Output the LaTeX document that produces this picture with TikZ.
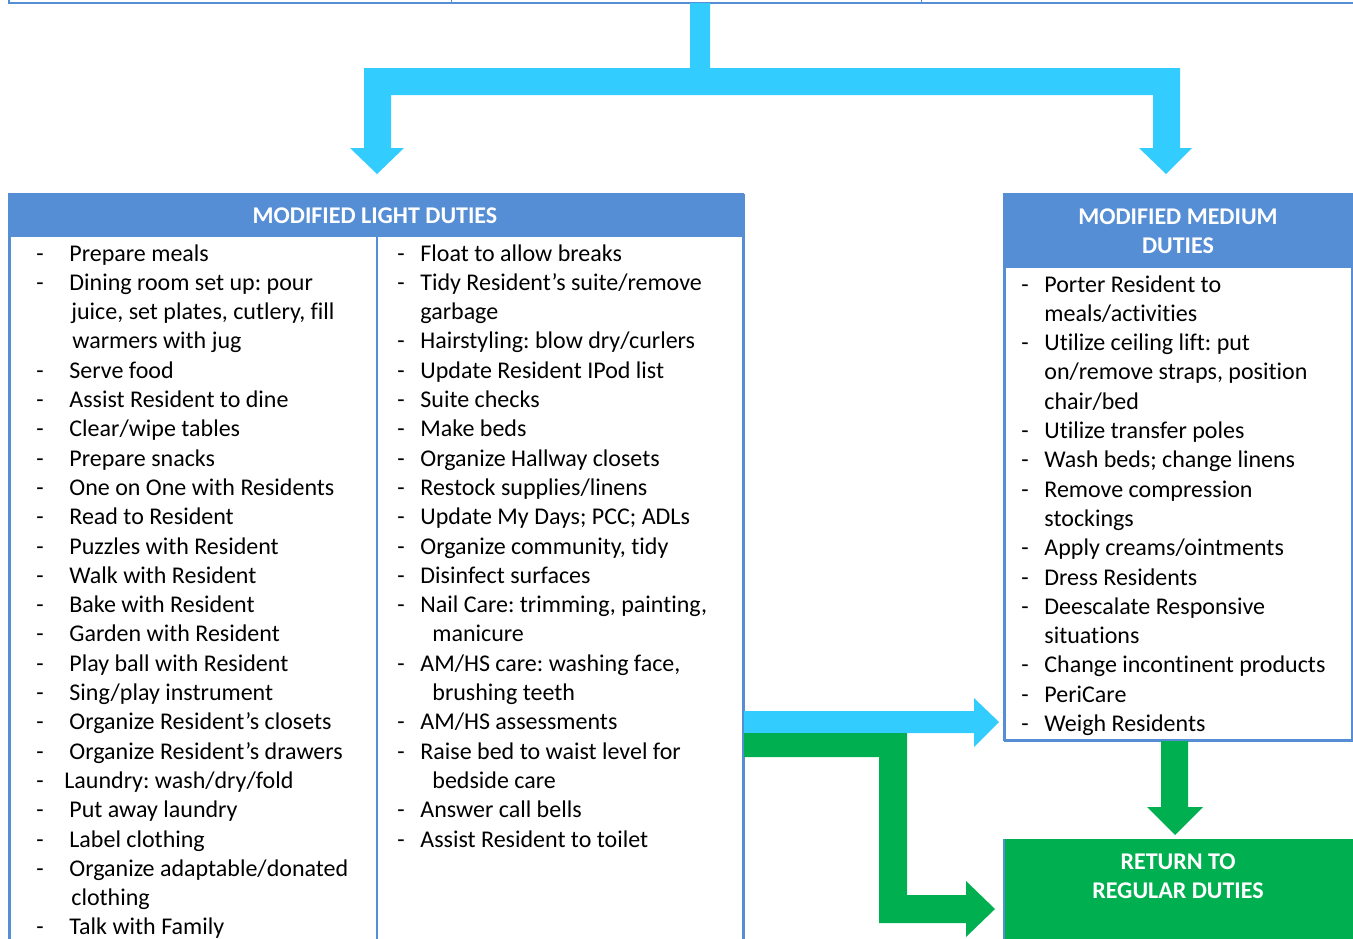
\documentclass[tikz,border=0pt]{standalone}
\usepackage{fontspec}
\setmainfont{Carlito}[Ligatures=NoCommon]
\frenchspacing
\definecolor{hdr}{HTML}{558ED5}
\definecolor{sky}{HTML}{33CCFF}
\definecolor{grn}{HTML}{00B050}
\newcommand\itm[4]{\node[txt,anchor=base west] (#1) at (#2,#3) {#4};}
\newcommand\dsh[3]{\node[txt,anchor=base west] (#1) at (#2,#3) {-};}
\begin{document}
\frenchspacing
\begin{tikzpicture}[x=0.5pt,y=-0.5pt,
  txt/.style={inner sep=0pt,font=\fontsize{12}{14.65}\selectfont},
  hd/.style={inner sep=0pt,text=white,font=\fontsize{12}{14.65}\selectfont\bfseries},
  box/.style={draw=hdr,line width=1pt,fill=white,inner sep=0pt,anchor=north west},
  hbox/.style={fill=hdr,inner sep=0pt,anchor=north west},
  skyarrow/.style={fill=sky,draw=none},
  grnarrow/.style={fill=grn,draw=none}]
\useasboundingbox (0,0) rectangle (1353,938);
\clip (0,0) rectangle (1353,938);

% top table edge
\draw[hdr,line width=1pt] (9,-2) -- (9,2.5) -- (1356,2.5);
\draw[hdr,line width=0.5pt] (451,-2) -- (451,2.5) (921,-2) -- (921,2.5);
\coordinate (src) at (700,3);

% boxes
\node[box,minimum width=367pt,minimum height=383pt] (light) at (9,194) {};
\node[hbox,minimum width=367pt,minimum height=21.5pt] (lighthd) at (9,194) {};
\draw[hdr,line width=1pt] (9,194) rectangle (743,960);
\draw[hdr,line width=1pt] (377,237) -- (377,960);
\node[hd] (lightt) at (375,216) {MODIFIED LIGHT DUTIES};

\node[box,minimum width=174pt,minimum height=273pt] (medium) at (1004,194) {};
\node[hbox,minimum width=174pt,minimum height=37pt] (mediumhd) at (1004,194) {};
\draw[hdr,line width=1pt] (1004,194) rectangle (1352,740);
\node[hd,anchor=base] (medt1) at (1178,224) {MODIFIED MEDIUM};
\node[hd,anchor=base] (medt2) at (1178,253) {DUTIES};

\node[fill=grn,inner sep=0pt,anchor=north west,minimum width=176pt,minimum height=60pt] (regular) at (1004,839) {};
\draw[hdr,line width=0.8pt] (regular.north west) -- (regular.south west);
\node[hd,anchor=base] (regt1) at (1178,869) {RETURN TO};
\node[hd,anchor=base] (regt2) at (1178,898) {REGULAR DUTIES};

% top split arrow
\path[skyarrow] (690,3) -- (710,3) -- (710,68) -- (1180,68) -- (1180,148) -- (1192,148)
  -- (1166,174) -- (1139,148) -- (1153,148) -- (1153,95) -- (391,95) -- (391,148)
  -- (404,148) -- (377,174) -- (350,148) -- (364,148) -- (364,68) -- (690,68) -- cycle;

% light -> medium
\path[skyarrow] (744,711) -- (974,711) -- (974,698) -- (999,722) -- (974,747) -- (974,733) -- (744,733) -- cycle;
% light -> regular
\path[grnarrow] (744,733) -- (907,733) -- (907,895) -- (966,895) -- (966,881) -- (995,909)
  -- (966,937) -- (966,923) -- (879,923) -- (879,757) -- (744,757) -- cycle;
% medium -> regular
\path[grnarrow] (1161,741) -- (1188,741) -- (1188,807) -- (1203,807) -- (1175,835) -- (1147,807) -- (1161,807) -- cycle;

% left column
\dsh{a1}{36}{261}\itm{b1}{69}{261}{Prepare meals}
\dsh{a2}{36}{290.3}\itm{b2}{69}{290.3}{Dining room set up: pour}
\itm{b3}{71}{319.6}{juice, set plates, cutlery, fill}
\itm{b4}{72}{348.9}{warmers with jug}
\dsh{a5}{36}{378.2}\itm{b5}{69}{378.2}{Serve food}
\dsh{a6}{36}{407.5}\itm{b6}{69}{407.5}{Assist Resident to dine}
\dsh{a7}{36}{436.8}\itm{b7}{69}{436.8}{Clear/wipe tables}
\dsh{a8}{36}{466.1}\itm{b8}{69}{466.1}{Prepare snacks}
\dsh{a9}{36}{495.4}\itm{b9}{69}{495.4}{One on One with Residents}
\dsh{a10}{36}{524.7}\itm{b10}{69}{524.7}{Read to Resident}
\dsh{a11}{36}{554}\itm{b11}{69}{554}{Puzzles with Resident}
\dsh{a12}{36}{583.3}\itm{b12}{69}{583.3}{Walk with Resident}
\dsh{a13}{36}{612.6}\itm{b13}{69}{612.6}{Bake with Resident}
\dsh{a14}{36}{641.9}\itm{b14}{69}{641.9}{Garden with Resident}
\dsh{a15}{36}{671.2}\itm{b15}{69}{671.2}{Play ball with Resident}
\dsh{a16}{36}{700.5}\itm{b16}{69}{700.5}{Sing/play instrument}
\dsh{a17}{36}{729.8}\itm{b17}{69}{729.8}{Organize Resident’s closets}
\dsh{a18}{36}{759.1}\itm{b18}{69}{759.1}{Organize Resident’s drawers}
\dsh{a19}{36}{788.4}\itm{b19}{64}{788.4}{Laundry: wash/dry/fold}
\dsh{a20}{36}{817.7}\itm{b20}{69}{817.7}{Put away laundry}
\dsh{a21}{36}{847}\itm{b21}{69}{847}{Label clothing}
\dsh{a22}{36}{876.3}\itm{b22}{69}{876.3}{Organize adaptable/donated}
\itm{b23}{71}{905.6}{clothing}
\dsh{a24}{36}{934.9}\itm{b24}{69}{934.9}{Talk with Family}

% middle column
\dsh{c1}{397}{261}\itm{d1}{420}{261}{Float to allow breaks}
\dsh{c2}{397}{290.3}\itm{d2}{420}{290.3}{Tidy Resident’s suite/remove}
\itm{d3}{420}{319.6}{garbage}
\dsh{c4}{397}{348.9}\itm{d4}{420}{348.9}{Hairstyling: blow dry/curlers}
\dsh{c5}{397}{378.2}\itm{d5}{420}{378.2}{Update Resident IPod list}
\dsh{c6}{397}{407.5}\itm{d6}{420}{407.5}{Suite checks}
\dsh{c7}{397}{436.8}\itm{d7}{420}{436.8}{Make beds}
\dsh{c8}{397}{466.1}\itm{d8}{420}{466.1}{Organize Hallway closets}
\dsh{c9}{397}{495.4}\itm{d9}{420}{495.4}{Restock supplies/linens}
\dsh{c10}{397}{524.7}\itm{d10}{420}{524.7}{Update My Days; PCC; ADLs}
\dsh{c11}{397}{554}\itm{d11}{420}{554}{Organize community, tidy}
\dsh{c12}{397}{583.3}\itm{d12}{420}{583.3}{Disinfect surfaces}
\dsh{c13}{397}{612.6}\itm{d13}{420}{612.6}{Nail Care: trimming, painting,}
\itm{d14}{432}{641.9}{manicure}
\dsh{c15}{397}{671.2}\itm{d15}{420}{671.2}{AM/HS care: washing face,}
\itm{d16}{432}{700.5}{brushing teeth}
\dsh{c17}{397}{729.8}\itm{d17}{420}{729.8}{AM/HS assessments}
\dsh{c18}{397}{759.1}\itm{d18}{420}{759.1}{Raise bed to waist level for}
\itm{d19}{432}{788.4}{bedside care}
\dsh{c20}{397}{817.7}\itm{d20}{420}{817.7}{Answer call bells}
\dsh{c21}{397}{847}\itm{d21}{420}{847}{Assist Resident to toilet}

% medium column
\dsh{e1}{1021}{292}\itm{f1}{1044}{292}{Porter Resident to}
\itm{f2}{1044}{321.3}{meals/activities}
\dsh{e3}{1021}{350.6}\itm{f3}{1044}{350.6}{Utilize ceiling lift: put}
\itm{f4}{1044}{379.9}{on/remove straps, position}
\itm{f5}{1044}{409.2}{chair/bed}
\dsh{e6}{1021}{438.5}\itm{f6}{1044}{438.5}{Utilize transfer poles}
\dsh{e7}{1021}{467.8}\itm{f7}{1044}{467.8}{Wash beds; change linens}
\dsh{e8}{1021}{497.1}\itm{f8}{1044}{497.1}{Remove compression}
\itm{f9}{1044}{526.4}{stockings}
\dsh{e10}{1021}{555.7}\itm{f10}{1044}{555.7}{Apply creams/ointments}
\dsh{e11}{1021}{585}\itm{f11}{1044}{585}{Dress Residents}
\dsh{e12}{1021}{614.3}\itm{f12}{1044}{614.3}{Deescalate Responsive}
\itm{f13}{1044}{643.6}{situations}
\dsh{e14}{1021}{672.9}\itm{f14}{1044}{672.9}{Change incontinent products}
\dsh{e15}{1021}{702.2}\itm{f15}{1044}{702.2}{PeriCare}
\dsh{e16}{1021}{731.5}\itm{f16}{1044}{731.5}{Weigh Residents}
\end{tikzpicture}
\end{document}
